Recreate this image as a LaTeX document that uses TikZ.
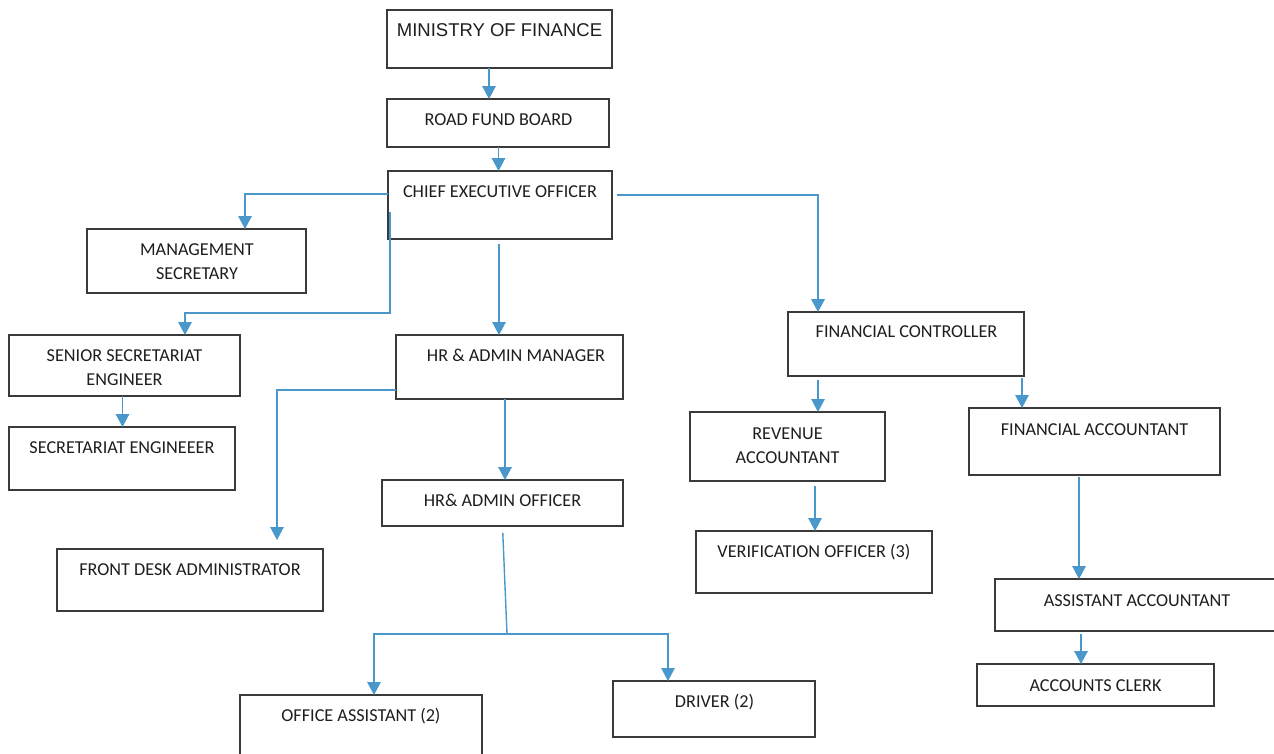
\documentclass[tikz,border=0pt]{standalone}
\usepackage{fontspec}
\setmainfont{Carlito}
\newfontfamily\arialfont{Liberation Sans}
\usetikzlibrary{arrows.meta}
\definecolor{lineblue}{HTML}{4A98CB}
\definecolor{boxgray}{HTML}{3A3A3A}
\definecolor{txtgray}{HTML}{1E1E1E}
\tikzset{
  orgbox/.style={draw=boxgray, line width=1.2pt, rectangle, inner sep=0pt, outer sep=0pt},
  lbl/.style={anchor=base, inner sep=0pt, text=txtgray, font=\fontsize{18.2}{22}\selectfont},
  conn/.style={draw=lineblue, line width=1.4pt, -{Triangle[width=13.5pt,length=13pt]}},
  plainconn/.style={draw=lineblue, line width=1.4pt},
}
\newcommand{\orgrect}[5]{%
  \node[orgbox, minimum width={(#4-#2)*1pt}, minimum height={(#5-#3)*1pt}] (#1) at ({(#2+#4)/2},{(#3+#5)/2}) {};}
\begin{document}
\begin{tikzpicture}[x=1pt,y=-1pt]
\fill[white] (0,0) rectangle (1274,753);
\useasboundingbox (0,0) rectangle (1274,753);

% boxes
\orgrect{mof}{387}{10}{612}{68}
\orgrect{rfb}{387}{99}{609}{147}
\orgrect{ceo}{388}{171}{612}{239}
\orgrect{mgs}{87}{229}{306}{293}
\orgrect{sse}{9}{335}{240}{396}
\orgrect{se}{9}{427}{235}{490}
\orgrect{hrm}{396}{335}{623}{399}
\orgrect{fc}{788}{312}{1024}{376}
\orgrect{rev}{690}{412}{885}{481}
\orgrect{fa}{969}{408}{1220}{475}
\orgrect{hro}{382}{480}{623}{526}
\orgrect{fd}{57}{549}{323}{611}
\orgrect{vo}{696}{531}{932}{593}
\orgrect{aa}{995}{579}{1276}{631}
\orgrect{ac}{977}{664}{1214}{706}
\orgrect{oa}{240}{695}{482}{775}
\orgrect{dr}{613}{681}{815}{737}

% texts
\node[lbl, font=\arialfont\fontsize{18.5}{22}\selectfont] (mof-t) at (499.5,36.6) {MINISTRY OF FINANCE};
\node[lbl] (rfb-t) at (498.5,125.9) {ROAD FUND BOARD};
\node[lbl] (ceo-t) at (500,197.9) {CHIEF EXECUTIVE OFFICER};
\node[lbl] (mgs-t1) at (197,255.9) {MANAGEMENT};
\node[lbl] (mgs-t2) at (197,279.9) {SECRETARY};
\node[lbl] (sse-t1) at (124.5,361.9) {SENIOR SECRETARIAT};
\node[lbl] (sse-t2) at (124.5,385.9) {ENGINEER};
\node[lbl] (se-t) at (122,453.9) {SECRETARIAT ENGINEEER};
\node[lbl] (hrm-t) at (516,361.9) {HR \& ADMIN MANAGER};
\node[lbl] (fc-t) at (906.5,337.9) {FINANCIAL CONTROLLER};
\node[lbl] (rev-t1) at (787.5,439.9) {REVENUE};
\node[lbl] (rev-t2) at (787.5,463.9) {ACCOUNTANT};
\node[lbl] (fa-t) at (1094.5,435.9) {FINANCIAL ACCOUNTANT};
\node[lbl] (hro-t) at (502.5,506.9) {HR\& ADMIN OFFICER};
\node[lbl] (fd-t) at (190,575.9) {FRONT DESK ADMINISTRATOR};
\node[lbl] (vo-t) at (814,557.9) {VERIFICATION OFFICER (3)};
\node[lbl] (aa-t) at (1137,606.9) {ASSISTANT ACCOUNTANT};
\node[lbl] (ac-t) at (1095.5,691.9) {ACCOUNTS CLERK};
\node[lbl] (oa-t) at (361,721.9) {OFFICE ASSISTANT (2)};
\node[lbl] (dr-t) at (714.5,707.9) {DRIVER (2)};

% connectors
\draw[conn] ([xshift=-10.5pt]mof.south) -- ([xshift=-10.5pt]mof.south |- rfb.north);
\draw[conn] ([xshift=0.5pt]rfb.south) -- ([xshift=0.5pt]rfb.south |- ceo.north);
\draw[conn] ([yshift=11pt]ceo.west) -| ([xshift=48.5pt]mgs.north);
\draw[conn, line width=1.8pt] ([xshift=2pt,yshift=-7pt]ceo.west) |- ([xshift=60.5pt,yshift=22pt]sse.north) -- ([xshift=60.5pt]sse.north);
\draw[conn, shorten <=5pt] ([xshift=-1pt]ceo.south) -- ([xshift=-1pt]ceo.south |- hrm.north);
\draw[conn, line width=2pt, shorten <=5pt] ([yshift=10pt]ceo.east) -| ([xshift=-88pt]fc.north);
\draw[conn] ([yshift=-23pt]hrm.west) -| ([xshift=87pt,yshift=9pt]fd.north);
\draw[conn] ([xshift=-4.5pt]hrm.south) -- ([xshift=-4.5pt]hrm.south |- hro.north);
\draw[conn] ([xshift=-2pt]sse.south) -- ([xshift=-2pt]sse.south |- se.north);
\coordinate (hj) at (507,634);
\draw[plainconn, shorten <=7pt] (hro.south) -- (hj);
\draw[conn] (hj) -| ([xshift=13pt]oa.north);
\draw[conn] (hj) -| ([xshift=-46pt]dr.north);
\draw[conn, shorten <=4pt] ([xshift=-88pt]fc.south) -- ([xshift=-88pt]fc.south |- rev.north);
\draw[conn, shorten <=2pt] ([xshift=-2pt]fc.south east) -- ([xshift=-2pt]fc.south east |- fa.north);
\draw[conn, shorten <=5pt] ([xshift=27.5pt]rev.south) -- ([xshift=27.5pt]rev.south |- vo.north);
\draw[conn, shorten <=2pt] ([xshift=-15.5pt]fa.south) -- ([xshift=-15.5pt]fa.south |- aa.north);
\draw[conn, shorten <=3pt] ([xshift=-14.5pt]ac.north |- aa.south) -- ([xshift=-14.5pt]ac.north);
\end{tikzpicture}
\end{document}
